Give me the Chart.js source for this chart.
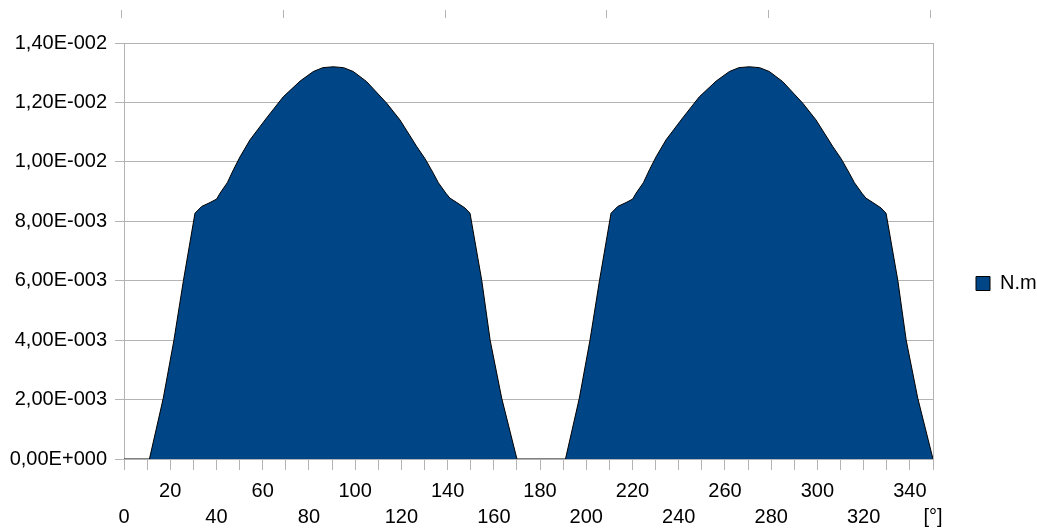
<!DOCTYPE html>
<html><head><meta charset="utf-8">
<script src="https://cdn.jsdelivr.net/npm/chart.js@4/dist/chart.umd.min.js"></script>
<style>html,body{margin:0;padding:0;background:#fff;overflow:hidden}</style>
</head><body>
<canvas id="c" width="1037" height="530"></canvas>
<script>
// ---- data ----
const seriesName = 'N.m';
const angles = [0, 11, 17, 21.6, 25.7, 30.7, 33.6, 37.2, 40.1, 41.5, 44.7, 47.3, 50.2, 54.5, 61.7, 68.9, 76.2, 81.9, 86, 90.5, 95, 99.2, 105, 113.7, 119.4, 126.7, 130.3, 133.8, 136, 139.3, 141, 144, 147.5, 149.7, 154.8, 158.4, 163.4, 170,
  191, 197, 201.6, 205.7, 210.7, 213.6, 217.2, 220.1, 221.5, 224.7, 227.3, 230.2, 234.5, 241.7, 248.9, 256.2, 261.9, 266, 270.5, 275, 279.2, 285, 293.7, 299.4, 306.7, 310.3, 313.8, 316, 319.3, 321, 324, 327.5, 329.7, 334.8, 338.4, 343.4, 350];
const torque = [0, 0, 0.00205, 0.0040, 0.0060, 0.00827, 0.0085, 0.00863, 0.00875, 0.00894, 0.0093, 0.00973, 0.01017, 0.01074, 0.01148, 0.01219, 0.01272, 0.01304, 0.01317, 0.0132, 0.01317, 0.01304, 0.0127, 0.01197, 0.01141, 0.01051, 0.01010, 0.00962, 0.0093, 0.00894, 0.00878, 0.00863, 0.00845, 0.00827, 0.0060, 0.0040, 0.00205, 0,
  0, 0.00205, 0.0040, 0.0060, 0.00827, 0.0085, 0.00863, 0.00875, 0.00894, 0.0093, 0.00973, 0.01017, 0.01074, 0.01148, 0.01219, 0.01272, 0.01304, 0.01317, 0.0132, 0.01317, 0.01304, 0.0127, 0.01197, 0.01141, 0.01051, 0.01010, 0.00962, 0.0093, 0.00894, 0.00878, 0.00863, 0.00845, 0.00827, 0.0060, 0.0040, 0.00205, 0];
const xTickValues = [0,10,20,30,40,50,60,70,80,90,100,110,120,130,140,150,160,170,180,190,200,210,220,230,240,250,260,270,280,290,300,310,320,330,340,350];
const xUnitLabel = '[°]';
const topMarkValues = [0,70,140,210,280,350];
const yMin = 0, yMax = 0.014, yStep = 0.002;

// ---- styling ----
const GRID = '#b3b3b3';
const FILL = '#004586';
const FONT = {family:'"Liberation Sans", Arial, sans-serif', size:20};
const XFONT = {family:'"Liberation Sans", Arial, sans-serif', size:20, lineHeight:1.32};

function sci(v){
  if (Math.abs(v) < 1e-12) return '0,00E+000';
  let e = Math.floor(Math.log10(Math.abs(v)));
  let m = v/Math.pow(10,e);
  if (Math.abs(m) >= 9.995){ m/=10; e++; }
  const sign = e < 0 ? '-' : '+';
  return m.toFixed(2).replace('.',',') + 'E' + sign + String(Math.abs(e)).padStart(3,'0');
}

const layoutFix = {
  id:'layoutFix',
  beforeLayout(chart){
    const lg = chart.legend;
    if (lg && !lg._fixed){
      const f = lg.fit;
      lg.fit = function(){ f.call(this); this.width = 104; };
      lg._fixed = true;
    }
  },
  afterLayout(chart){
    const lg = chart.legend;
    if (lg){ lg.left += 33; lg.right += 33; lg.top -= 3; lg.bottom -= 3; }
  },
  afterDraw(chart){
    const ctx = chart.ctx, sx = chart.scales.x;
    ctx.save();
    ctx.strokeStyle = GRID; ctx.lineWidth = 1;
    topMarkValues.forEach(v=>{
      const px = Math.round(sx.getPixelForValue(v)) - 2.5;
      ctx.beginPath(); ctx.moveTo(px, 10); ctx.lineTo(px, 18); ctx.stroke();
    });
    ctx.restore();
  }
};

new Chart(document.getElementById('c'), {
  type:'line',
  data:{
    datasets:[{
      label: seriesName,
      data: angles.map((a,i)=>({x:a, y:torque[i]})),
      backgroundColor: FILL,
      borderColor: '#000',
      borderWidth: 1,
      fill: 'origin',
      pointRadius: 0,
      tension: 0
    }]
  },
  options:{
    responsive:false,
    animation:false,
    devicePixelRatio:1,
    layout:{padding:{top:43, right:0, bottom:0, left:0}},
    plugins:{
      legend:{
        position:'right',
        labels:{boxWidth:14, boxHeight:14, padding:10, font:FONT, color:'#000'}
      },
      tooltip:{enabled:false}
    },
    scales:{
      x:{
        type:'linear', min:0, max:350,
        afterBuildTicks(s){ s.ticks = xTickValues.map(v=>({value:v})); },
        afterFit(s){ s.height = 71; },
        ticks:{
          autoSkip:false, maxRotation:0, minRotation:0, padding:8, font:XFONT, color:'#000',
          callback(v){
            if (v === 350) return ['', xUnitLabel];
            if (v % 40 === 0) return ['', String(v)];
            if (v % 40 === 20) return [String(v), ''];
            return '';
          }
        },
        grid:{
          color: c => (c.tick && c.tick.value === 350) ? GRID : 'rgba(0,0,0,0)',
          tickColor: GRID, tickLength: 11, lineWidth:1
        },
        border:{display:true, color:GRID}
      },
      y:{
        min:yMin, max:yMax,
        afterFit(s){ s.width = 124; },
        ticks:{stepSize:yStep, padding:8, font:FONT, color:'#000', callback: v => sci(v)},
        grid:{color:GRID, tickLength:9, lineWidth:1},
        border:{display:true, color:GRID}
      }
    }
  },
  plugins:[layoutFix]
});
</script>
</body></html>
